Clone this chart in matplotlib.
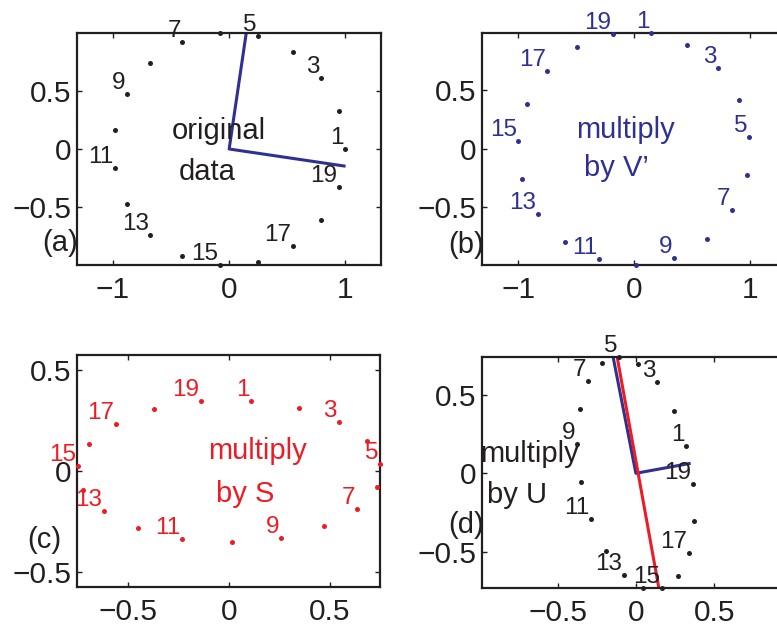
import matplotlib
matplotlib.use("Agg")
import matplotlib.pyplot as plt

plt.rcParams['font.family'] = ['Liberation Sans', 'DejaVu Sans']

BLUE = '#2E3192'
RED = '#ED1C24'
BLACK = '#231F20'

point_ids = list(range(1, 20))

# (a) original data
a_x = [1.000, 0.946, 0.789, 0.547, 0.246, -0.083, -0.402, -0.677, -0.880, -0.986,
       -0.986, -0.880, -0.677, -0.402, -0.083, 0.246, 0.547, 0.789, 0.946]
a_y = [0.000, 0.325, 0.614, 0.837, 0.969, 0.997, 0.916, 0.736, 0.476, 0.165,
       -0.165, -0.476, -0.736, -0.916, -0.997, -0.969, -0.837, -0.614, -0.325]
# (b) multiply by V'
b_x = [0.146, 0.459, 0.723, 0.908, 0.995, 0.974, 0.847, 0.629, 0.342, 0.019,
       -0.307, -0.599, -0.827, -0.965, -0.998, -0.923, -0.748, -0.492, -0.183]
b_y = [0.989, 0.888, 0.691, 0.419, 0.101, -0.227, -0.531, -0.778, -0.940, -1.000,
       -0.952, -0.801, -0.563, -0.264, 0.064, 0.385, 0.663, 0.870, 0.983]
# (c) multiply by S
c_x = [0.110, 0.345, 0.544, 0.683, 0.748, 0.732, 0.637, 0.473, 0.257, 0.014,
       -0.231, -0.450, -0.622, -0.726, -0.750, -0.694, -0.562, -0.370, -0.138]
c_y = [0.348, 0.313, 0.243, 0.147, 0.036, -0.080, -0.187, -0.274, -0.331, -0.352,
       -0.335, -0.282, -0.198, -0.093, 0.023, 0.136, 0.233, 0.306, 0.346]
# (d) multiply by U
d_x = [0.321, 0.241, 0.135, 0.014, -0.107, -0.218, -0.305, -0.359, -0.374, -0.348,
       -0.285, -0.191, -0.076, 0.047, 0.166, 0.266, 0.336, 0.371, 0.366]
d_y = [0.174, 0.398, 0.580, 0.698, 0.741, 0.703, 0.590, 0.412, 0.189, -0.053,
       -0.291, -0.496, -0.648, -0.730, -0.732, -0.655, -0.507, -0.305, -0.070]

# singular-vector lines
a_vec_x = [0.146, 0.0, 0.989]
a_vec_y = [0.989, 0.0, -0.146]
d_vec_x = [-0.145, 0.0, 0.340]
d_vec_y = [0.740, 0.0, 0.062]
d_red_x = [-0.120, 0.147]
d_red_y = [0.744, -0.733]

# tick values / labels
ticks_1 = [-1, 0, 1]
ticks_1_labels = ['\u22121', '0', '1']
ticks_h = [-0.5, 0, 0.5]
ticks_h_labels = ['\u22120.5', '0', '0.5']

fig = plt.figure(figsize=(7.77, 6.31), dpi=100)
W, H = 777.0, 631.0


def make_ax(left, top, width, height):
    return fig.add_axes([left / W, 1 - (top + height) / H, width / W, height / H])


def style(ax, xl, yl, xt, xtl, yt, ytl):
    ax.set_xlim(*xl)
    ax.set_ylim(*yl)
    ax.set_xticks(xt)
    ax.set_xticklabels(xtl)
    ax.set_yticks(yt)
    ax.set_yticklabels(ytl)
    ax.tick_params(direction='in', length=3.5, width=1.0, top=True, right=True,
                   labelsize=21.5, colors=BLACK)
    ax.tick_params(axis='x', pad=8)
    ax.tick_params(axis='y', pad=4)
    for s in ax.spines.values():
        s.set_linewidth(1.6)
        s.set_color(BLACK)


def panel(ax, xs, ys, color):
    ax.plot(xs, ys, linestyle='none', marker='o', ms=3.6, mec='none', mfc=color,
            clip_on=False, zorder=3)
    for k, x, y in zip(point_ids, xs, ys):
        if k % 2 == 1:
            ax.annotate(str(k), (x, y), xytext=(-1.2, 0), textcoords='offset points',
                        ha='right', va='bottom', fontsize=17.5, color=color,
                        annotation_clip=False, zorder=4)


def words(ax, items, color):
    for (x, y, s) in items:
        ax.text(x, y, s, ha='left', va='baseline', fontsize=21, color=color,
                clip_on=False, zorder=5)


# (a)
ax_a = make_ax(77.3, 33, 303.7, 232)
style(ax_a, (-1.307, 1.307), (-0.9966, 0.9966), ticks_1, ticks_1_labels, ticks_h, ticks_h_labels)
panel(ax_a, a_x, a_y, BLACK)
ax_a.plot(a_vec_x, a_vec_y, color=BLUE, lw=2.2, zorder=2)
words(ax_a, [(-0.496, 0.083, 'original'), (-0.43, -0.266, 'data')], BLACK)
words(ax_a, [(-1.607, -0.88, '(a)')], BLACK)

# (b)
ax_b = make_ax(482.3, 33, 303.7, 232)
style(ax_b, (-1.31, 1.31), (-0.9998, 0.993), ticks_1, ticks_1_labels, ticks_h, ticks_h_labels)
panel(ax_b, b_x, b_y, BLUE)
words(ax_b, [(-0.497, 0.092, 'multiply'), (-0.435, -0.235, 'by V\u2019')], BLUE)
words(ax_b, [(-1.60, -0.90, '(b)')], BLACK)

# (c)
ax_c = make_ax(77.3, 355, 302.7, 232)
style(ax_c, (-0.752, 0.749), (-0.574, 0.574), ticks_h, ticks_h_labels, ticks_h, ticks_h_labels)
panel(ax_c, c_x, c_y, RED)
words(ax_c, [(-0.102, 0.058, 'multiply'), (-0.063, -0.153, 'by S')], RED)
words(ax_c, [(-0.998, -0.379, '(c)')], BLACK)

# (d)
ax_d = make_ax(482.3, 356.7, 303.7, 231.6)
style(ax_d, (-0.98, 0.958), (-0.733, 0.743), ticks_h, ticks_h_labels, ticks_h, ticks_h_labels)
panel(ax_d, d_x, d_y, BLACK)
ax_d.plot(d_vec_x, d_vec_y, color=BLUE, lw=2.2, zorder=2)
ax_d.plot(d_red_x, d_red_y, color=RED, lw=2.2, zorder=2)
words(ax_d, [(-0.996, 0.074, 'multiply'), (-0.953, -0.19, 'by U')], BLACK)
words(ax_d, [(-1.198, -0.383, '(d)')], BLACK)

fig.savefig('out.png', dpi=100)
